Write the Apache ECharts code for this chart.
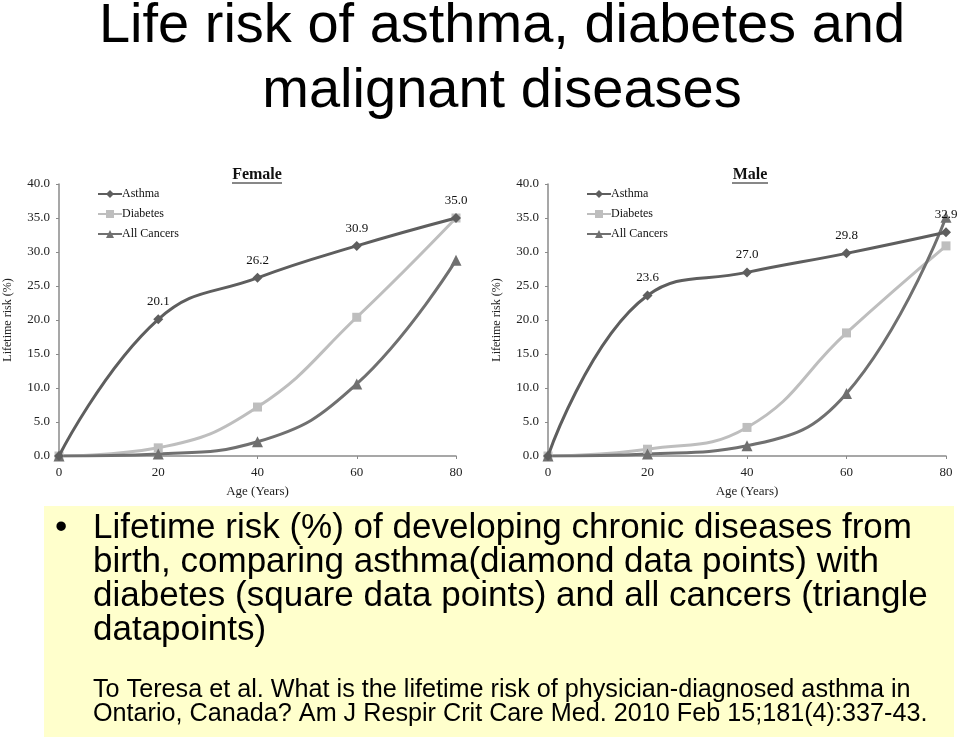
<!DOCTYPE html>
<html>
<head>
<meta charset="utf-8">
<script src="https://cdn.jsdelivr.net/npm/echarts@6/dist/echarts.min.js"></script>
<style>
html,body{margin:0;padding:0;background:#fff;}
#main{width:959px;height:737px;}
</style>
</head>
<body>
<div id="main"></div>
<script>
// ---- data ----
var ages = [0, 20, 40, 60, 80];
var seriesNames = ['Asthma', 'Diabetes', 'All Cancers'];
var femaleAsthma = [0, 20.1, 26.2, 30.9, 35.0];
var femaleDiabetes = [0, 1.2, 7.2, 20.4, 35.0];
var femaleCancers = [0, 0.3, 2.1, 10.6, 28.8];
var maleAsthma = [0, 23.6, 27.0, 29.8, 32.9];
var maleDiabetes = [0, 1.0, 4.2, 18.1, 30.9];
var maleCancers = [0, 0.3, 1.5, 9.2, 35.1];
var yTicks = [0, 5, 10, 15, 20, 25, 30, 35, 40];
var panelTitles = ['Female', 'Male'];
var mainTitle = 'Life risk of asthma, diabetes and\nmalignant diseases';
var bulletText = 'Lifetime risk (%) of developing chronic diseases from\nbirth, comparing asthma(diamond data points) with\ndiabetes (square data points) and all cancers (triangle\ndatapoints)';
var citeText = 'To Teresa et al. What is the lifetime risk of physician-diagnosed asthma in\nOntario, Canada? Am J Respir Crit Care Med. 2010 Feb 15;181(4):337-43.';

// ---- styles ----
var colors = ['#5e5e5e', '#bebebe', '#707070'];
var symbols = ['diamond', 'rect', 'triangle'];
var symSizes = [10, 9, 11];
var serif = '"Liberation Serif", "Times New Roman", serif';
var sans = '"Liberation Sans", Arial, sans-serif';

function pairs(vals) { return ages.map(function (a, i) { return [a, vals[i]]; }); }

var grids = [
  { left: 59, top: 184, width: 397, height: 272 },
  { left: 548, top: 184, width: 398, height: 272 }
];

function xAxis(idx) {
  return {
    type: 'value', gridIndex: idx, min: 0, max: 80, interval: 20,
    name: 'Age (Years)', nameLocation: 'middle', nameGap: 29,
    nameTextStyle: { fontFamily: serif, fontSize: 13, color: '#222' },
    axisLine: { lineStyle: { color: '#8a8a8a', width: 1.5 } },
    axisTick: { show: true, length: 3, lineStyle: { color: '#8a8a8a' } },
    axisLabel: { fontFamily: serif, fontSize: 13, color: '#222', margin: 10 },
    splitLine: { show: false }
  };
}
function yAxis(idx) {
  return {
    type: 'value', gridIndex: idx, min: yTicks[0], max: yTicks[yTicks.length - 1], interval: 5,
    name: 'Lifetime risk (%)', nameLocation: 'middle', nameGap: 45, nameRotate: 90,
    nameTextStyle: { fontFamily: serif, fontSize: 12, color: '#222' },
    axisLine: { show: true, lineStyle: { color: '#8a8a8a', width: 1.5 } },
    axisTick: { show: true, length: 3, lineStyle: { color: '#8a8a8a' } },
    axisLabel: { fontFamily: serif, fontSize: 13, color: '#222', margin: 9,
      formatter: function (v) { return v.toFixed(1); } },
    splitLine: { show: false }
  };
}

function makeSeries(idx, name, vals, k, labels) {
  return {
    type: 'line', name: name, xAxisIndex: idx, yAxisIndex: idx,
    data: pairs(vals), smooth: 0.45,
    symbol: symbols[k], symbolSize: symSizes[k], showAllSymbol: true,
    lineStyle: { color: colors[k], width: 3 },
    itemStyle: { color: colors[k] },
    label: labels ? {
      show: true, position: 'top', distance: 6,
      fontFamily: serif, fontSize: 13, color: '#111',
      formatter: function (p) { return p.value[0] === 0 ? '' : p.value[1].toFixed(1); }
    } : { show: false },
    z: labels ? 3 : 2
  };
}

var series = [
  makeSeries(0, 'Asthma', femaleAsthma, 0, true),
  makeSeries(0, 'Diabetes', femaleDiabetes, 1, false),
  makeSeries(0, 'All Cancers', femaleCancers, 2, false),
  makeSeries(1, 'Asthma', maleAsthma, 0, true),
  makeSeries(1, 'Diabetes', maleDiabetes, 1, false),
  makeSeries(1, 'All Cancers', maleCancers, 2, false)
];

function legend(left) {
  return {
    data: seriesNames, orient: 'vertical', left: left, top: 183,
    itemWidth: 24, itemHeight: 10, itemGap: 8,
    textStyle: { fontFamily: serif, fontSize: 12, color: '#111', padding: [0, 0, 0, -5] },
    selectedMode: false
  };
}

var chart = echarts.init(document.getElementById('main'), null, { renderer: 'canvas' });
chart.setOption({
  backgroundColor: '#ffffff',
  animation: false,
  graphic: [
    { type: 'rect', left: 44, top: 506, shape: { width: 910, height: 231 }, style: { fill: '#ffffcc' }, z: -10 },
    { type: 'text', x: 502, y: -6,
      style: { text: mainTitle, font: '56px ' + sans, fill: '#000', lineHeight: 65, textAlign: 'center' } },
    { type: 'text', x: 257, y: 167,
      style: { text: panelTitles[0], font: 'bold 16px ' + serif, fill: '#111', textAlign: 'center' } },
    { type: 'text', x: 750, y: 167,
      style: { text: panelTitles[1], font: 'bold 16px ' + serif, fill: '#111', textAlign: 'center' } },
    { type: 'line', shape: { x1: 232, y1: 183, x2: 282, y2: 183 }, style: { stroke: '#111', lineWidth: 1 } },
    { type: 'line', shape: { x1: 732, y1: 183, x2: 768, y2: 183 }, style: { stroke: '#111', lineWidth: 1 } },
    { type: 'text', x: 55, y: 511, style: { text: '•', font: '35px ' + sans, fill: '#000' } },
    { type: 'text', x: 93, y: 511,
      style: { text: bulletText, font: '35px ' + sans, fill: '#000', lineHeight: 34 } },
    { type: 'text', x: 93, y: 678,
      style: { text: citeText, font: '25.2px ' + sans, fill: '#000', lineHeight: 24 } }
  ],
  legend: [legend(92), legend(581)],
  grid: grids,
  xAxis: [xAxis(0), xAxis(1)],
  yAxis: [yAxis(0), yAxis(1)],
  series: series
});
</script>
</body>
</html>
